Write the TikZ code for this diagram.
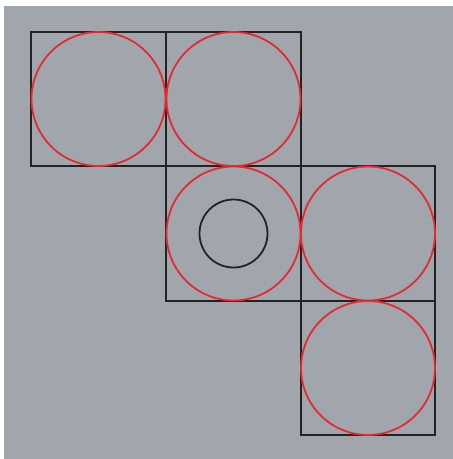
\documentclass[tikz,border=0pt]{standalone}
\usetikzlibrary{positioning}
\definecolor{bggray}{RGB}{161,166,173}
\definecolor{cellred}{RGB}{228,42,48}
\definecolor{edge}{RGB}{35,35,38}
\tikzset{
  cell/.style={draw=edge, line width=1.8pt, minimum size=134.5pt, inner sep=0pt, outer sep=0pt},
  ring/.style={draw=cellred, circle, line width=1.8pt, minimum size=134pt, inner sep=0pt},
  hole/.style={draw=edge, circle, line width=1.8pt, minimum size=68pt, inner sep=0pt}
}
\begin{document}
\begin{tikzpicture}[x=1pt,y=-1pt]
\useasboundingbox (0,0) rectangle (453,459);
\fill[white] (0,0) rectangle (453,459);
\fill[bggray] (4,6) rectangle (453,459);
\node[cell] (s1) at (98.5,99) {};
\node[cell] (s2) at (233.5,99) {};
\node[cell] (s3) at (233.5,233.5) {};
\node[cell] (s4) at (368,233.5) {};
\node[cell] (s5) at (368,368) {};
\node[ring] (c1) at (s1.center) {};
\node[ring] (c2) at (s2.center) {};
\node[ring] (c3) at (s3.center) {};
\node[ring] (c4) at (s4.center) {};
\node[ring] (c5) at (s5.center) {};
\node[hole] (h) at (s3.center) {};
\end{tikzpicture}
\end{document}
